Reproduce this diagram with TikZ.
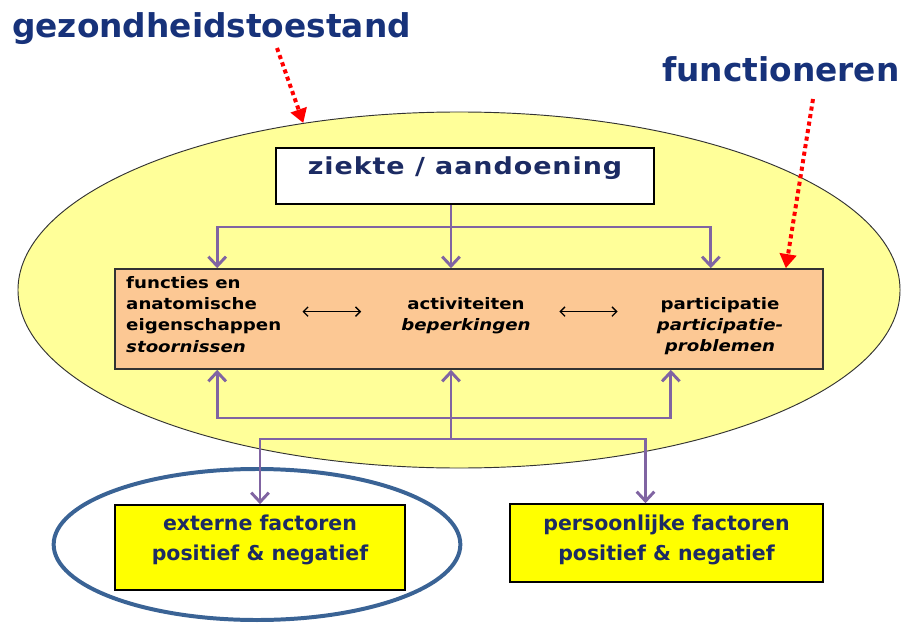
\documentclass[tikz,border=0pt]{standalone}
\usepackage{fontspec}
\setmainfont{DejaVu Sans}
\newfontfamily\boxfont{DejaVu Sans}[FakeStretch=1.15]
\newfontfamily\zkfont{DejaVu Sans}[FakeStretch=1.15, LetterSpace=4]
\usepackage{xcolor}
\usetikzlibrary{shapes.geometric,arrows.meta,calc,positioning}

\definecolor{titleblue}{HTML}{17327A}
\definecolor{stateyellow}{HTML}{FFFF99}
\definecolor{boxorange}{HTML}{FCC894}
\definecolor{linkpurple}{HTML}{8064A2}
\definecolor{factoryellow}{HTML}{FFFF00}
\definecolor{ringblue}{HTML}{3A6395}
\definecolor{textnavy}{HTML}{1C2B63}

\tikzset{
    link/.style={draw=linkpurple, line width=2.5pt},
    linktip/.style={link, -{Straight Barb[length=8pt,width=15pt]}},
    hint/.style={draw=red, line width=3.4pt, dash pattern=on 3.5pt off 3pt, -{Triangle[length=12pt,width=14pt]}},
    pair/.style={black, line width=1.1pt, {Straight Barb[length=4pt,width=8pt]}-{Straight Barb[length=4pt,width=8pt]}},
    titletext/.style={anchor=base west, inner sep=0pt, text=titleblue, font=\fontsize{28}{32}\selectfont\bfseries},
    itemtext/.style={inner sep=0pt, font=\boxfont\fontsize{13.5}{18.2}\selectfont\bfseries},
    factorbox/.style={draw, line width=1.4pt, fill=factoryellow, text=textnavy, align=center, font=\fontsize{17.5}{25.6}\selectfont\bfseries}
}

\begin{document}
\begin{tikzpicture}[x=0.03cm, y=-0.03cm]
    \useasboundingbox (0,0) rectangle (904,624);

    % titles
    \node [titletext] (gzTitle) at (12,38) {gezondheidstoestand};
    \node [titletext] (fnTitle) at (662,82) {functioneren};

    % health state
    \node [ellipse, draw=black!80, line width=0.8pt, fill=stateyellow, minimum width=26.46cm, minimum height=10.68cm, inner sep=0pt] (state) at (459,290) {};

    \node [draw, line width=1.4pt, fill=white, minimum width=11.34cm, minimum height=1.68cm, text=textnavy, font=\zkfont\fontsize{20}{22}\selectfont\bfseries, text height=15.2pt, text depth=18.5pt] (ziekte) at (465,176) {ziekte / aandoening};

    % functioning
    \node [draw=black!80, line width=1.4pt, fill=boxorange, minimum width=21.24cm, minimum height=3cm] (functioning) at (469,319) {};
    \node [itemtext, anchor=north west, align=left] (bodyFn) at (126,276) {functies en\\anatomische\\eigenschappen\\\textit{stoornissen}};
    \node [itemtext, anchor=north, align=center] (activity) at (466,297) {activiteiten\\\textit{beperkingen}};
    \node [itemtext, anchor=north, align=center] (participation) at (720,297) {participatie\\\textit{participatie-}\\\textit{problemen}};

    \draw [pair] ($(bodyFn.east |- activity.west)+(21,-4)$) -- ($(activity.west)+(-40,-4)$);
    \draw [pair] ($(activity.east)+(28.5,-4)$) -- ($(participation.west |- activity.east)+(-39,-4)$);

    % factors
    \node [factorbox, minimum width=8.7cm, minimum height=2.55cm] (external) at (260,547.5) {externe factoren\\positief \& negatief\rule[-16pt]{0pt}{1pt}};
    \node [factorbox, minimum width=9.39cm, minimum height=2.34cm] (personal) at (666.5,543) {persoonlijke factoren\\positief \& negatief\rule[-9pt]{0pt}{1pt}};
    \node [ellipse, draw=ringblue, line width=3.4pt, minimum width=12.2cm, minimum height=4.53cm, inner sep=0pt] (focus) at (257,544.5) {};

    % links from ziekte
    \coordinate (topSplit) at (451,227);
    \draw [link] ($(ziekte.south)+(-14,0)$) -- (topSplit);
    \draw [linktip] (topSplit) -- (topSplit |- functioning.north);
    \draw [linktip] (topSplit) -| ($(functioning.north west)+(103,0)$);
    \draw [linktip] (topSplit) -| ($(functioning.north east)+(-113,0)$);

    % links from factors
    \coordinate (botSplit) at (451,418);
    \coordinate (botFork) at (451,439);
    \draw [linktip] (botFork) -- (botFork |- functioning.south);
    \draw [linktip] (botSplit) -| ($(functioning.south west)+(103,0)$);
    \draw [linktip] (botSplit) -| ($(functioning.south east)+(-153,0)$);
    \draw [linktip] (botFork) -| (external.north);
    \draw [linktip] (botFork) -| ($(personal.north)+(-21,0)$);

    % pointers
    \coordinate (gzFrom) at (277,48);
    \draw [hint] (gzFrom) -- (state.133);
    \coordinate (fnFrom) at (813,99);
    \draw [hint] (fnFrom) -- ($(functioning.north east)+(-38,0)$);
\end{tikzpicture}
\end{document}
